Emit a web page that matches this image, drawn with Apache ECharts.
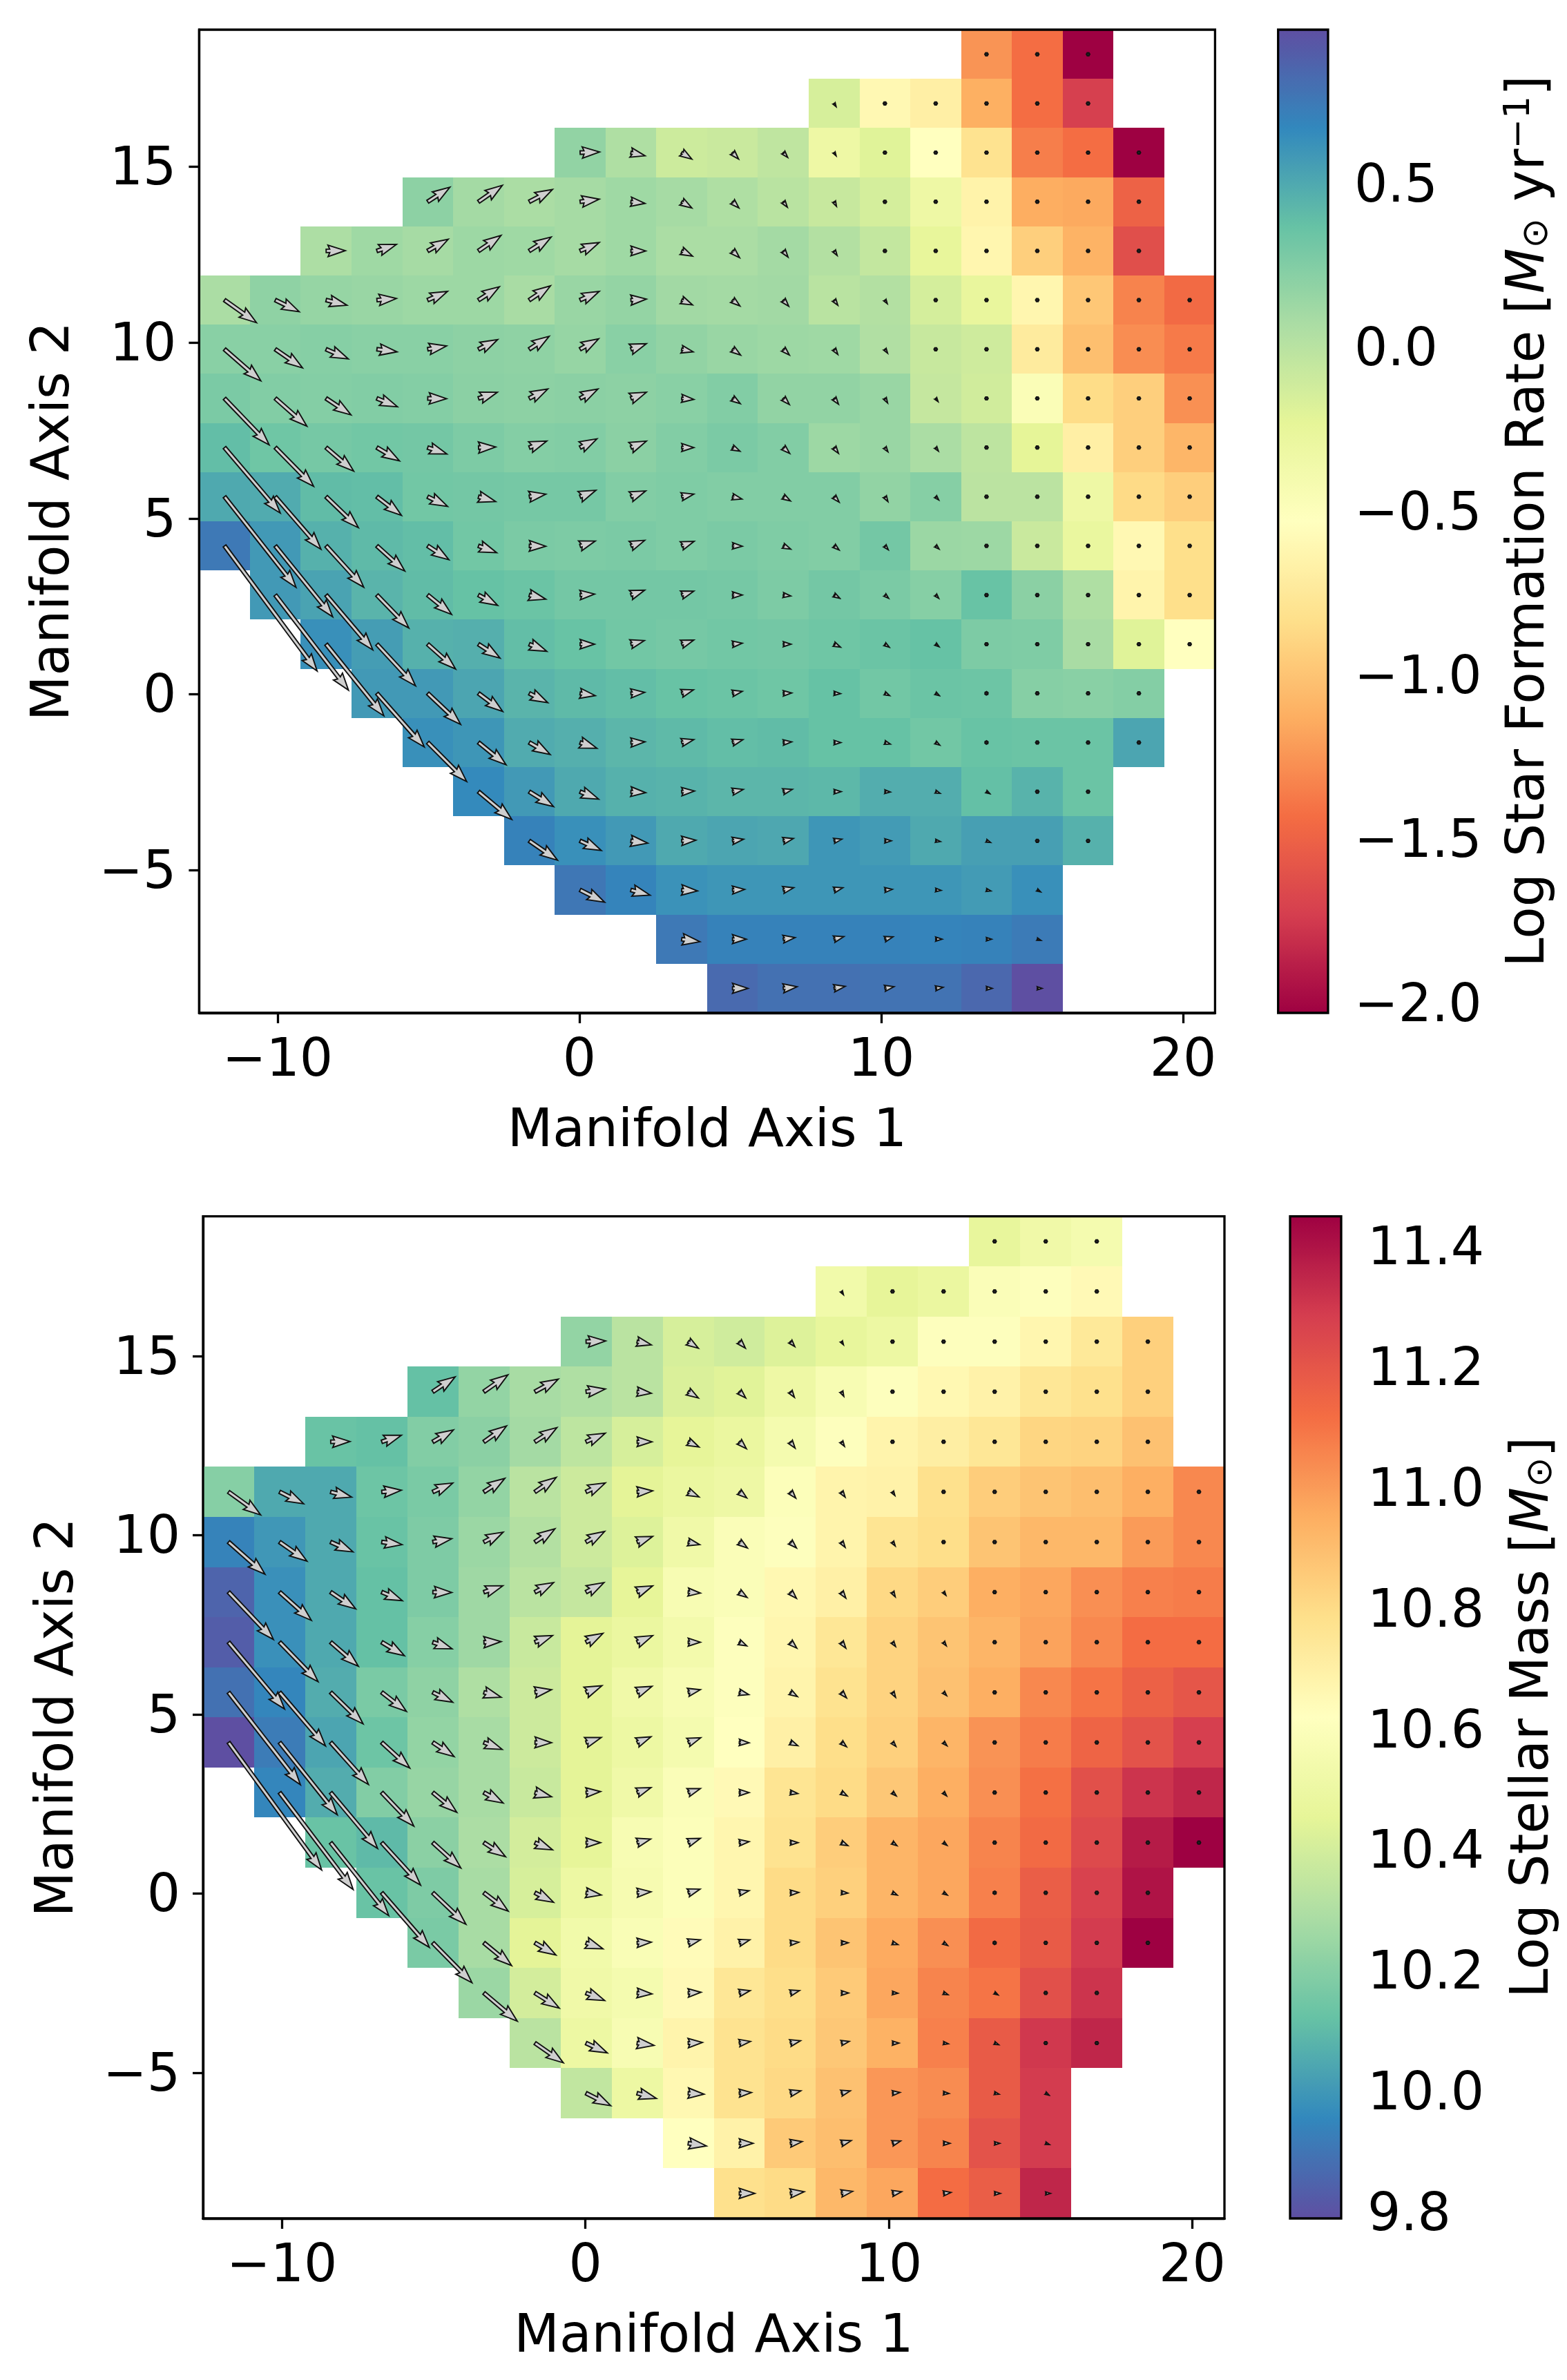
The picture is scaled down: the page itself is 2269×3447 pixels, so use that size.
<!DOCTYPE html>
<html><head><meta charset="utf-8">
<style>html,body{margin:0;padding:0;background:#fff}#c{width:2269px;height:3447px}</style>
<script src="https://cdn.jsdelivr.net/npm/echarts@6/dist/echarts.min.js"></script>
</head><body><div id="c"></div>
<script>
const X_RANGE = [-12.6, 21.06];
const Y_RANGE = [-9.06, 18.9];
const N_CELLS = 20;
const X_TICKS = [-10, 0, 10, 20];
const Y_TICKS = [-5, 0, 5, 10, 15];
const SFR_RANGE = [-2.03, 0.97];
const SFR_TICKS = [-2.0, -1.5, -1.0, -0.5, 0.0, 0.5];
const MASS_RANGE = [9.79, 11.45];
const MASS_TICKS = [9.8, 10.0, 10.2, 10.4, 10.6, 10.8, 11.0, 11.2, 11.4];
const SPECTRAL = ['#9e0142','#d53e4f','#f46d43','#fdae61','#fee08b','#ffffbf','#e6f598','#abdda4','#66c2a5','#3288bd','#5e4fa2'];
// first filled column of each row, top row first
const ROW_START = [15,12,7,4,2,0,0,0,0,0,0,1,2,3,4,5,6,7,9,10];
const SFR = [
[-1.25,-1.43,-2.03],
[-0.15,-0.6,-0.68,-1.12,-1.43,-1.72],
[0.18,0.05,-0.1,-0.08,-0.03,-0.33,-0.2,-0.53,-0.8,-1.35,-1.43,-2.03],
[0.2,0.1,0.07,0.09,0.12,0.09,0.05,0,-0.07,-0.14,-0.33,-0.65,-1.13,-1.15,-1.5],
[0.06,0.12,0.09,0.13,0.12,0.09,0.12,0.07,0.07,0.1,0.03,-0.05,-0.25,-0.62,-0.93,-1.1,-1.62],
[0.07,0.19,0.16,0.15,0.13,0.13,0.08,0.15,0.17,0.11,0.1,0.11,0,0.03,-0.14,-0.27,-0.62,-0.98,-1.33,-1.45],
[0.22,0.22,0.23,0.22,0.22,0.2,0.19,0.16,0.22,0.18,0.15,0.13,0.12,0.04,-0.07,-0.11,-0.72,-1.03,-1.28,-1.37],
[0.28,0.25,0.24,0.25,0.24,0.21,0.2,0.21,0.2,0.22,0.25,0.18,0.18,0.15,-0.06,-0.12,-0.47,-0.85,-0.93,-1.27],
[0.39,0.33,0.3,0.32,0.31,0.27,0.24,0.25,0.21,0.25,0.28,0.25,0.13,0.15,0.07,-0.02,-0.23,-0.68,-0.93,-1.08],
[0.5,0.49,0.4,0.39,0.32,0.31,0.3,0.3,0.25,0.26,0.25,0.25,0.25,0.18,0.23,-0.01,-0.01,-0.33,-0.86,-0.94],
[0.75,0.58,0.46,0.41,0.39,0.32,0.28,0.27,0.28,0.26,0.28,0.26,0.25,0.31,0.14,0.13,-0.08,-0.28,-0.6,-0.83],
[0.58,0.53,0.44,0.4,0.37,0.35,0.31,0.31,0.31,0.3,0.27,0.31,0.28,0.23,0.36,0.21,0.05,-0.64,-0.83],
[0.63,0.56,0.46,0.47,0.39,0.36,0.32,0.3,0.32,0.31,0.33,0.35,0.37,0.27,0.26,0.08,-0.2,-0.53],
[0.58,0.58,0.52,0.44,0.41,0.39,0.36,0.35,0.33,0.37,0.32,0.35,0.34,0.23,0.22,0.24],
[0.63,0.6,0.49,0.47,0.43,0.41,0.39,0.4,0.37,0.37,0.32,0.36,0.35,0.35,0.52],
[0.66,0.58,0.5,0.46,0.45,0.43,0.43,0.42,0.48,0.48,0.38,0.45,0.35],
[0.7,0.63,0.58,0.5,0.52,0.51,0.6,0.57,0.5,0.55,0.55,0.46],
[0.76,0.69,0.62,0.6,0.6,0.6,0.6,0.6,0.57,0.63],
[0.75,0.7,0.7,0.7,0.7,0.69,0.7,0.74],
[0.83,0.79,0.79,0.78,0.78,0.84,0.97]
];
const MASS = [
[10.47,10.52,10.55],
[10.53,10.46,10.49,10.59,10.61,10.65],
[10.23,10.33,10.41,10.39,10.43,10.47,10.5,10.61,10.61,10.67,10.74,10.84],
[10.12,10.23,10.28,10.3,10.33,10.42,10.44,10.51,10.57,10.61,10.66,10.69,10.75,10.78,10.84],
[10.13,10.12,10.19,10.21,10.27,10.34,10.41,10.46,10.49,10.55,10.61,10.68,10.71,10.75,10.82,10.83,10.89],
[10.2,10.05,10.05,10.14,10.17,10.23,10.33,10.38,10.45,10.49,10.51,10.6,10.68,10.69,10.78,10.85,10.88,10.9,10.95,11.05],
[9.94,10,10.05,10.13,10.18,10.25,10.31,10.38,10.43,10.52,10.59,10.61,10.68,10.76,10.79,10.88,10.92,10.92,11,11.05],
[9.85,9.98,10.05,10.12,10.18,10.26,10.33,10.36,10.46,10.57,10.59,10.66,10.7,10.81,10.85,10.95,10.97,11.03,11.07,11.08],
[9.83,9.98,10.05,10.12,10.2,10.26,10.37,10.45,10.49,10.54,10.61,10.67,10.75,10.83,10.88,10.93,10.98,11.05,11.12,11.12],
[9.89,9.95,10.06,10.17,10.22,10.3,10.38,10.45,10.52,10.57,10.61,10.68,10.77,10.83,10.89,10.95,11.05,11.1,11.16,11.2],
[9.79,9.92,10.04,10.14,10.23,10.28,10.38,10.45,10.5,10.55,10.62,10.7,10.79,10.84,10.93,11.02,11.08,11.15,11.21,11.28],
[9.95,10.06,10.19,10.24,10.28,10.37,10.45,10.52,10.59,10.65,10.76,10.8,10.87,10.95,11.03,11.11,11.22,11.31,11.35],
[10.13,10.1,10.21,10.29,10.4,10.46,10.57,10.6,10.67,10.77,10.85,10.93,10.97,11.06,11.13,11.24,11.38,11.45],
[10.13,10.18,10.28,10.41,10.5,10.56,10.6,10.67,10.8,10.84,10.93,10.97,11.07,11.17,11.27,11.4],
[10.17,10.28,10.45,10.53,10.58,10.64,10.69,10.8,10.88,10.96,11.03,11.13,11.18,11.29,11.45],
[10.25,10.4,10.52,10.55,10.65,10.75,10.79,10.86,10.97,11.06,11.1,11.22,11.31],
[10.33,10.5,10.57,10.68,10.77,10.8,10.87,10.94,11.07,11.18,11.3,11.35],
[10.35,10.5,10.66,10.77,10.81,10.89,11.01,11.04,11.18,11.29],
[10.62,10.69,10.86,10.9,11.01,11.06,11.21,11.29],
[10.78,10.8,10.92,10.97,11.12,11.17,11.35]
];
// arrow components (shared flow field); a missing trailing entry is a zero-length arrow (dot)
const FLOW_U = [
[],[6],
[58,42,30,18,13,6],
[66,71,69,57,42,30,19,12,7,4],
[57,58,61,67,65,57,44,32,21,14,9,5],
[95,71,62,58,59,62,63,57,46,32,22,16,11,7],
[108,81,66,60,56,57,59,55,46,34,24,18,11,8],
[133,94,74,61,56,56,55,53,46,36,23,18,13,8,7],
[166,114,82,67,57,51,52,50,46,36,22,19,13,9,8],
[213,136,96,73,59,51,49,47,44,36,28,21,15,9,9],
[276,171,112,83,63,54,49,45,41,37,29,22,15,10,10],
[218,139,95,71,57,49,43,41,36,29,22,17,11,9],
[172,115,83,64,52,43,40,36,29,23,19,13,10],
[141,98,72,55,45,41,35,29,25,19,14,11,8],
[116,82,62,50,42,36,31,25,20,16,12,8],
[99,72,55,44,38,32,27,21,16,13,10],
[84,63,50,42,33,30,23,19,14,12],
[73,57,47,36,31,26,22,16,13,10],
[54,41,35,29,24,19,15,11],
[46,41,33,27,22,17,14]
];
const FLOW_V = [
[],[10],
[-2,10,20,20,15,10],
[-45,-51,-38,-8,5,19,19,17,14,9],
[-1,-20,-36,-48,-43,-26,0,16,21,19,14,9],
[70,36,16,-5,-27,-41,-44,-27,-3,15,18,19,16,11],
[98,58,30,8,-10,-30,-40,-32,-17,8,18,18,16,12],
[144,86,51,26,1,-19,-29,-29,-19,3,16,19,18,14,10],
[203,120,73,41,20,-2,-20,-27,-20,0,11,18,18,13,11],
[281,163,96,58,30,15,-8,-20,-18,-8,7,13,17,15,10],
[388,220,128,78,43,21,1,-15,-17,-14,1,10,13,12,10],
[295,170,102,60,32,13,-3,-15,-12,0,3,10,10,10],
[222,129,77,43,22,0,-11,-13,-3,0,9,9,8],
[166,96,56,29,7,-3,-11,-6,-1,1,7,7,6],
[121,69,37,18,-2,-9,-9,-2,0,5,8,6],
[86,46,23,3,-2,-7,-7,0,1,5,6],
[60,30,7,-2,-5,-7,-5,0,2,5],
[38,16,3,-2,-7,-7,-2,1,3,6],
[8,0,-5,-8,-7,0,0,4],
[0,-5,-6,-5,-3,0,0]
];
const U_PER_X = 90, V_PER_Y = 109;   // flow units per manifold-axis unit
const SHAFT = 5;                      // quiver shaft width, px

const FONT = 'DejaVu Sans', FS = 76, LW = 3.3;
const dx = (X_RANGE[1]-X_RANGE[0])/N_CELLS, dy = (Y_RANGE[1]-Y_RANGE[0])/N_CELLS;
const cx = c => X_RANGE[0]+(c+.5)*dx, cy = r => Y_RANGE[1]-(r+.5)*dy;

function cellData(rows){
  const out=[];
  rows.forEach((row,r)=>row.forEach((v,i)=>out.push([cx(ROW_START[r]+i),cy(r),v])));
  return out;
}
function flowData(rows){
  const out=[];
  rows.forEach((row,r)=>row.forEach((_,i)=>{
    const u=FLOW_U[r][i]||0, v=FLOW_V[r][i]||0;
    out.push([cx(ROW_START[r]+i),cy(r),u/U_PER_X,-v/V_PER_Y]);
  }));
  return out;
}
function renderCell(params,api){
  const x=api.value(0),y=api.value(1);
  const a=api.coord([x-dx/2,y+dy/2]),b=api.coord([x+dx/2,y-dy/2]);
  const l=Math.round(a[0]),t=Math.round(a[1]),rr=Math.round(b[0]),bb=Math.round(b[1]);
  return {type:'rect',shape:{x:l,y:t,width:rr-l,height:bb-t},style:{fill:api.visual('color')}};
}
function renderArrow(params,api){
  const x=api.value(0),y=api.value(1);
  const p=api.coord([x,y]),q=api.coord([x+api.value(2),y+api.value(3)]);
  const ddx=q[0]-p[0],ddy=q[1]-p[1],L=Math.hypot(ddx,ddy),ang=Math.atan2(ddy,ddx);
  const W=SHAFT,hl=5*W,hal=4.5*W,hw=3.3*W;
  let pts,dot=false;
  if(L<W){
    dot=true;
    pts=[];for(let k=0;k<6;k++){const th=k*Math.PI/3;pts.push([Math.cos(th)*W/2,Math.sin(th)*W/2]);}
  }else{
    let xs,ys;
    if(L<hl){const s=L/hl;xs=[0,(hl-hal)*s,0,hl*s];ys=[W/2*s,W/2*s,hw/2*s,0];}
    else{xs=[0,L-hal,L-hl,L];ys=[W/2,W/2,hw/2,0];}
    pts=[[xs[0],ys[0]],[xs[1],ys[1]],[xs[2],ys[2]],[xs[3],0],[xs[2],-ys[2]],[xs[1],-ys[1]],[xs[0],-ys[0]]];
  }
  const c=Math.cos(ang),s=Math.sin(ang);
  const points=pts.map(o=>[p[0]+o[0]*c-o[1]*s,p[1]+o[0]*s+o[1]*c]);
  return {type:'polygon',shape:{points},style:{fill:dot?'#222':'#cfcfcf',stroke:'#111',lineWidth:1.9}};
}
const minus=s=>String(s).replace('-','\u2212');
const tickFont={fontFamily:FONT,fontSize:FS,color:'#000'};
const tickRich={t:{fontFamily:FONT,fontSize:FS,color:'#000',padding:[12,0,0,0]}};
function mainX(grid){return {type:'value',gridIndex:grid,min:X_RANGE[0],max:X_RANGE[1],splitLine:{show:false},
  axisLine:{show:true,onZero:false,lineStyle:{color:'#000',width:LW}},
  axisTick:{show:true,length:15,lineStyle:{color:'#000',width:LW},customValues:X_TICKS},
  axisLabel:Object.assign({margin:33,showMinLabel:true,showMaxLabel:true,customValues:X_TICKS,formatter:minus},tickFont),
  name:'Manifold Axis 1',nameLocation:'middle',nameGap:135,nameTextStyle:{fontFamily:FONT,fontSize:FS,color:'#000'}};}
function mainY(grid){return {type:'value',gridIndex:grid,min:Y_RANGE[0],max:Y_RANGE[1],splitLine:{show:false},
  axisLine:{show:true,onZero:false,lineStyle:{color:'#000',width:LW}},
  axisTick:{show:true,length:15,lineStyle:{color:'#000',width:LW},customValues:Y_TICKS},
  axisLabel:Object.assign({margin:33,rich:tickRich,customValues:Y_TICKS,formatter:v=>'{t|'+minus(v)+'}'},tickFont),
  name:'Manifold Axis 2',nameLocation:'middle',nameGap:171,nameTextStyle:{fontFamily:FONT,fontSize:FS,color:'#000'}};}
function barX(grid){return {type:'value',gridIndex:grid,min:0,max:1,show:false};}
const rich={i:{fontFamily:FONT,fontSize:FS,fontStyle:'italic',color:'#000'},
  a:{fontFamily:FONT,fontSize:FS,color:'#000'},
  sub:{fontFamily:FONT,fontSize:52,color:'#000',padding:[22,0,0,0]},
  sup:{fontFamily:FONT,fontSize:52,color:'#000',padding:[0,0,30,0]}};
function barY(grid,range,ticks,name,gap){return {type:'value',gridIndex:grid,position:'right',min:range[0],max:range[1],splitLine:{show:false},
  axisLine:{show:false},
  axisTick:{show:true,length:15,lineStyle:{color:'#000',width:LW},customValues:ticks},
  axisLabel:Object.assign({margin:38,rich:tickRich,customValues:ticks,formatter:v=>'{t|'+minus(v.toFixed(1))+'}'},tickFont),
  name:name,nameLocation:'middle',nameRotate:90,nameGap:gap,nameTextStyle:{fontFamily:FONT,fontSize:FS,color:'#000',rich}};}
const box={show:true,borderColor:'#000',borderWidth:LW,backgroundColor:'transparent',z:6,outerBoundsMode:'none'};
const option={
  animation:false,backgroundColor:'#fff',
  grid:[
    Object.assign({left:288.4,top:43,width:1471,height:1424},box),
    Object.assign({left:1850.7,top:43,width:72.3,height:1424},box),
    Object.assign({left:294,top:1761.6,width:1479,height:1451.4},box),
    Object.assign({left:1868,top:1761.6,width:74,height:1451.4},box)
  ],
  xAxis:[mainX(0),barX(1),mainX(2),barX(3)],
  yAxis:[mainY(0),
    barY(1,SFR_RANGE,SFR_TICKS,'{a|Log Star Formation Rate [}{i|M}{sub|\u2299}{a| yr}{sup|\u22121}{a|]}',251),
    mainY(2),
    barY(3,MASS_RANGE,MASS_TICKS,'{a|Log Stellar Mass [}{i|M}{sub|\u2299}{a|]}',241)],
  visualMap:[
    {type:'continuous',seriesIndex:0,dimension:2,min:SFR_RANGE[0],max:SFR_RANGE[1],inRange:{color:SPECTRAL},
     left:1850.7,top:43,itemWidth:72.3,itemHeight:1424,padding:0,text:null,calculable:false,showLabel:false,hoverLink:false,z:4},
    {type:'continuous',seriesIndex:2,dimension:2,min:MASS_RANGE[0],max:MASS_RANGE[1],inRange:{color:SPECTRAL.slice().reverse()},
     left:1868,top:1761.6,itemWidth:74,itemHeight:1451.4,padding:0,text:null,calculable:false,showLabel:false,hoverLink:false,z:4}
  ],
  series:[
    {type:'custom',xAxisIndex:0,yAxisIndex:0,renderItem:renderCell,data:cellData(SFR),encode:{x:0,y:1},silent:true,z:2},
    {type:'custom',xAxisIndex:0,yAxisIndex:0,renderItem:renderArrow,data:flowData(SFR),encode:{x:0,y:1},silent:true,z:3},
    {type:'custom',xAxisIndex:2,yAxisIndex:2,renderItem:renderCell,data:cellData(MASS),encode:{x:0,y:1},silent:true,z:2},
    {type:'custom',xAxisIndex:2,yAxisIndex:2,renderItem:renderArrow,data:flowData(MASS),encode:{x:0,y:1},silent:true,z:3}
  ]
};
const chart=echarts.init(document.getElementById('c'),null,{renderer:'canvas',width:2269,height:3447});
chart.setOption(option);
</script></body></html>
